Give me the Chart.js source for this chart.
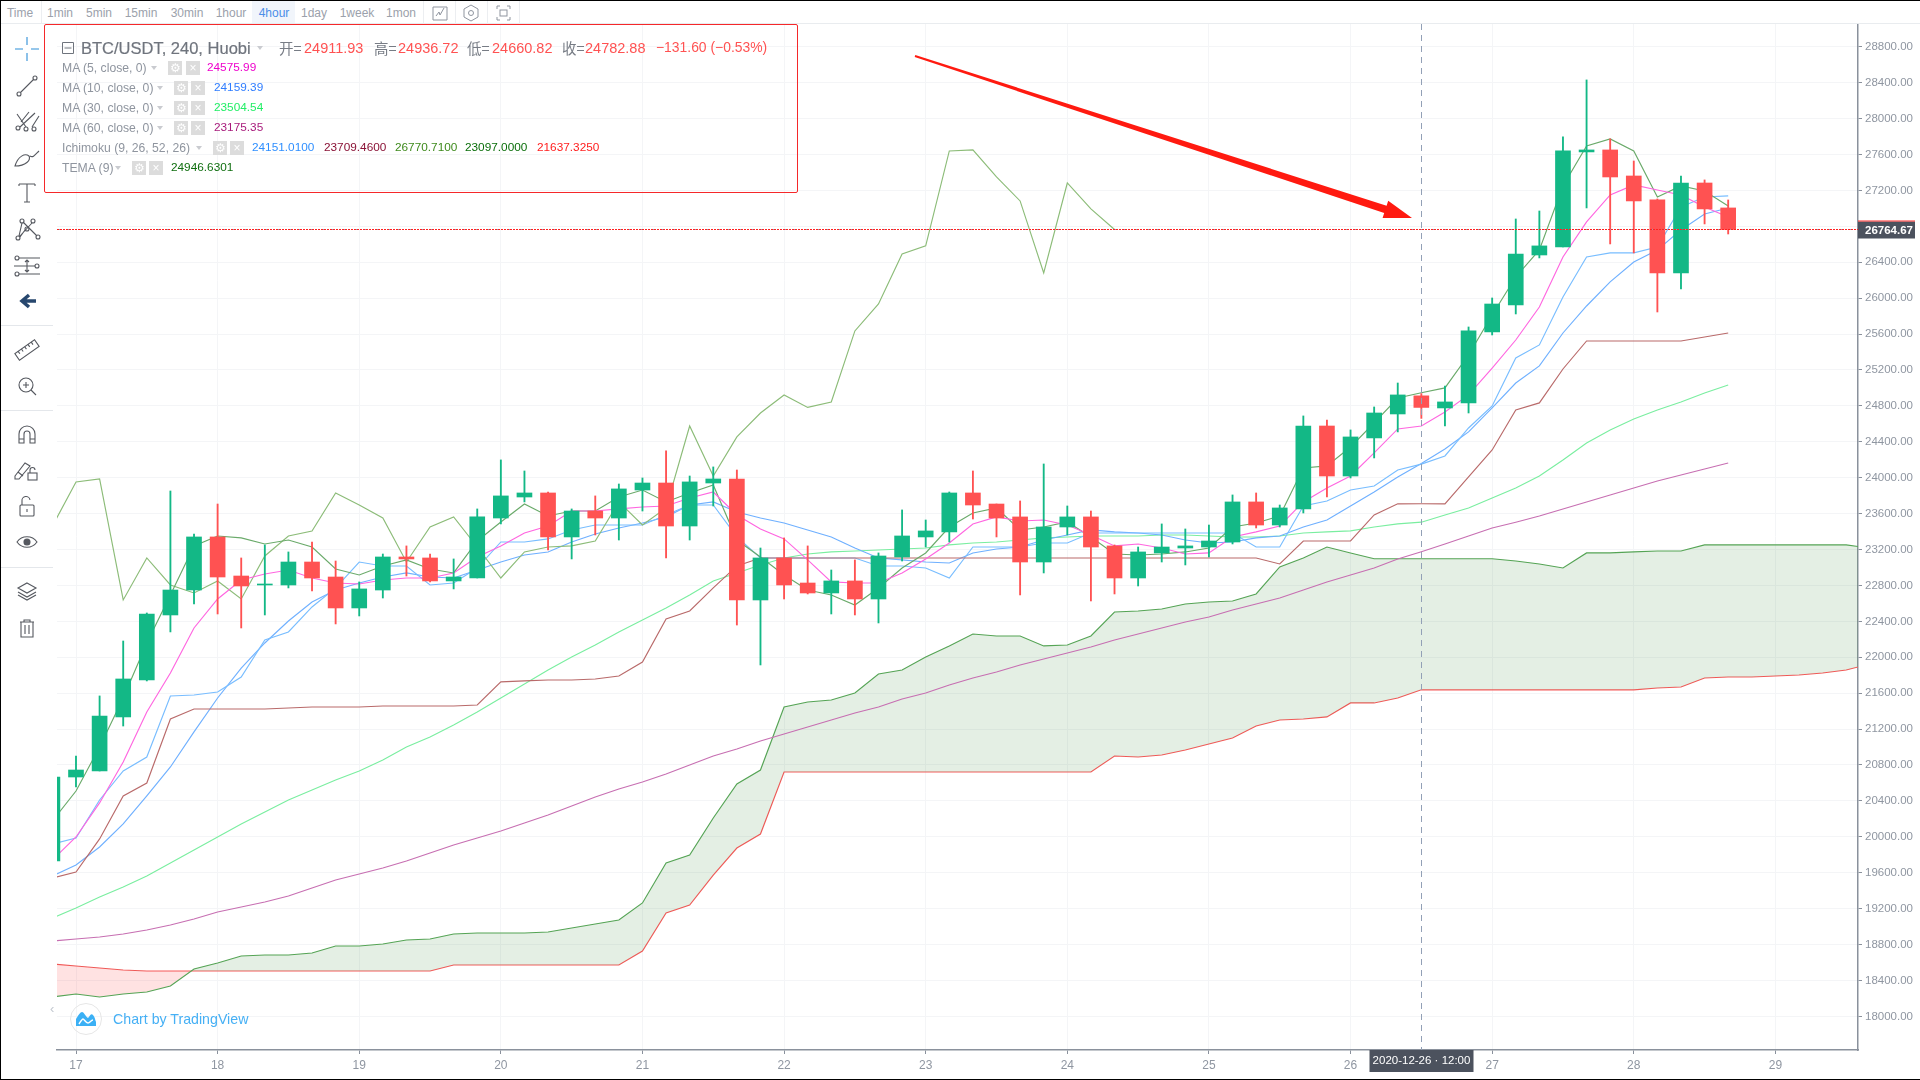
<!DOCTYPE html>
<html>
<head>
<meta charset="utf-8">
<title>BTC/USDT 240</title>
<script src="https://cdn.jsdelivr.net/npm/chart.js@4/dist/chart.umd.min.js"></script>
<style>
    html, body { margin: 0; padding: 0; background: #fff; overflow: hidden; }
    body { width: 1920px; height: 1080px; position: relative; font-family: "Liberation Sans", Arial, sans-serif; }
    canvas { position: absolute; left: 0; top: 0; }
    .t { position: absolute; white-space: nowrap; line-height: 1; transform: translateY(-50%); }
    .top { top: 13px; font-size: 12px; color: #9ba1ab; transform: translate(-50%, -50%); }
    .sep { position: absolute; top: 1px; height: 23px; width: 1px; background: #eceef1; }
    .lab { font-size: 12.2px; color: #8f959f; }
    .val { font-size: 11.8px; }
    .red { font-size: 14.5px; color: #ff5252; }
    .cn { font-size: 14.5px; color: #777c85; font-family: "Noto Sans CJK SC", sans-serif; }
    .caret { position: absolute; width: 0; height: 0; border-left: 3.5px solid transparent; border-right: 3.5px solid transparent; border-top: 4px solid #c9cbd0; }
    .btn { position: absolute; width: 14px; height: 14px; background: #dcdcdc; color: #fff; font-size: 12px; line-height: 14px; text-align: center; }
    #frame { position: absolute; inset: 0; border-left: 1px solid #000; border-top: 1px solid #000; border-bottom: 1px solid #000; pointer-events: none; }
    #topbar { position: absolute; left: 0; top: 0; width: 1920px; height: 24px; border-bottom: 1px solid #e9ecef; background: #fff; box-sizing: border-box; }
    #legendbox { position: absolute; left: 44px; top: 24px; width: 752px; height: 167px; border: 1px solid #f5282a; border-radius: 2px; }
</style>
</head>
<body>
<canvas id="chart" width="1920" height="1080"></canvas>

<div id="topbar">
    <span class="t top" style="left:20px">Time</span><i class="sep" style="left:41px"></i>
    <span class="t top" style="left:60px">1min</span>
    <span class="t top" style="left:99px">5min</span>
    <span class="t top" style="left:141px">15min</span>
    <span class="t top" style="left:187px">30min</span>
    <span class="t top" style="left:231px">1hour</span>
    <i style="position:absolute;left:252px;top:1px;width:43px;height:22px;background:#f1f5fb"></i>
    <span class="t top" style="left:274px;color:#4b8ee8">4hour</span>
    <span class="t top" style="left:314px">1day</span>
    <span class="t top" style="left:357px">1week</span>
    <span class="t top" style="left:401px">1mon</span>
    <i class="sep" style="left:423px"></i><i class="sep" style="left:455px"></i><i class="sep" style="left:487px"></i><i class="sep" style="left:519px"></i>
    <svg style="position:absolute;left:430px;top:4px" width="84" height="18" fill="none" stroke="#8f959f">
        <path d="M3 3h14v13H3zM6 12l3-4 1 3 4-7"/>
        <path d="M41 1l7 4v8l-7 4-7-4V5z"/><circle cx="41" cy="9" r="2.5"/>
        <path d="M67 5V2h3M77 2h3v3M80 13v3h-3M70 16h-3v-3"/><rect x="70" y="6" width="7" height="6"/>
    </svg>
</div>

<svg id="tools" style="position:absolute;left:0;top:0" width="57" height="660" fill="none" stroke="#55585f" stroke-width="1.1">
    <g stroke="#2f8fd8"><path d="M15 49h8M31 49h8M27 37v8M27 53v8"/></g>
    <g transform="translate(27,86)"><circle cx="-8" cy="8" r="2"/><circle cx="8" cy="-8" r="2"/><path d="M-6.5 6.5L6.5-6.5"/></g>
    <g transform="translate(27,121)"><circle cx="-9" cy="7" r="2"/><circle cx="-1" cy="8" r="2"/><circle cx="7" cy="8" r="2"/><path d="M-7 6L8-8M-1 6L-10-7M-6 1L2-9M5 6L12-5"/></g>
    <g transform="translate(27,158)"><path d="M-12 8C-9-2-2-5 2-2c2 4-3 10-14 10zM3-2C6 0 8-3 12-7"/></g>
    <g transform="translate(27,193)"><path d="M-8-9H8M-8-9v2M8-9v2M0-9V9M-3 9h6"/></g>
    <g transform="translate(27,229)"><circle cx="-9" cy="9" r="2"/><circle cx="-5" cy="-8" r="2"/><circle cx="6" cy="-8" r="2"/><circle cx="11" cy="8" r="2"/><circle cx="0" cy="0" r="2"/><path d="M-8 7L-5-6M-7 8L-2 1M-4-7L10 7M5-6L-8 8"/></g>
    <g transform="translate(27,266)"><circle cx="-10" cy="-8" r="2"/><circle cx="10" cy="0" r="2"/><circle cx="-10" cy="8" r="2"/><path d="M-8-8H13M-13 0H8M-8 8H13M0-6V6M-2-4L0-6 2-4M-2 4L0 6 2 4"/></g>
    <g transform="translate(27,301)"><path d="M9 0H-3M2-6L-5 0 2 6" stroke="#27476e" stroke-width="3.5"/></g>
    <rect x="0" y="325" width="53" height="1" fill="#e4e7eb" stroke="none"/>
    <g transform="translate(27,350) rotate(-35)"><rect x="-12" y="-4" width="24" height="8"/><path d="M-8-4v3M-4-4v3M0-4v3M4-4v3M8-4v3"/></g>
    <g transform="translate(27,386)"><circle cx="-1" cy="-1" r="7"/><path d="M-1-4V2M-4-1H2M4 4L9 9"/></g>
    <rect x="0" y="410" width="53" height="1" fill="#e4e7eb" stroke="none"/>
    <g transform="translate(27,435)"><path d="M-8 8V-1A8 8 0 0 1 8-1V8H3V-1A3 3 0 0 0-3-1V8zM-8 4H-3M3 4H8"/></g>
    <g transform="translate(27,470)"><path d="M-12 6L-2-7 3-4-8 9l-4 0zM-9 2L-4 6"/><rect x="1" y="3" width="9" height="7"/><path d="M3 3V0a2.500 2.500 0 0 1 5 0"/></g>
    <g transform="translate(27,507)"><rect x="-7" y="-2" width="14" height="11" rx="1"/><path d="M-5-2V-6A4 4 0 0 1 3-7M0 2v3"/></g>
    <g transform="translate(27,542)"><path d="M-10 0C-5-7 5-7 10 0 5 7-5 7-10 0z"/><circle r="3" fill="#55585f"/></g>
    <rect x="0" y="567" width="53" height="1" fill="#e4e7eb" stroke="none"/>
    <g transform="translate(27,591)"><path d="M0-8L9-3 0 2-9-3zM-9 1L0 6 9 1M-9 4L0 9 9 4"/></g>
    <g transform="translate(27,628)"><path d="M-7-6H7M-3-6V-8H3V-6M-6-6V9H6V-6M-2-3V6M2-3V6"/></g>
</svg>

<div id="legendbox"></div>
<svg style="position:absolute;left:62px;top:42px" width="12" height="12" fill="none" stroke="#6f747d"><path d="M.5.5h11v11H.5zM2.500 6h7"/></svg>
<span class="t" style="left:81px;top:48px;font-size:16.5px;color:#6f747d;-webkit-text-stroke:.2px #6f747d">BTC/USDT, 240, Huobi</span>
<i class="caret" style="left:257px;top:46px"></i>
<span class="t cn" style="left:279px;top:48px">开=</span><span class="t red" style="left:304px;top:48px">24911.93</span>
<span class="t cn" style="left:374px;top:48px">高=</span><span class="t red" style="left:398px;top:48px">24936.72</span>
<span class="t cn" style="left:467px;top:48px">低=</span><span class="t red" style="left:492px;top:48px">24660.82</span>
<span class="t cn" style="left:562px;top:48px">收=</span><span class="t red" style="left:585px;top:48px">24782.88</span>
<span class="t red" style="left:656px;top:48px;font-size:13.9px">−131.60 (−0.53%)</span>

<span class="t lab" style="left:62px;top:68px">MA (5, close, 0)</span><i class="caret" style="left:151px;top:66px"></i>
<span class="btn" style="left:168px;top:61px">⚙</span><span class="btn" style="left:186px;top:61px">×</span>
<span class="t val" style="left:207px;top:68px;color:#ee00cc">24575.99</span>

<span class="t lab" style="left:62px;top:88px">MA (10, close, 0)</span><i class="caret" style="left:157px;top:86px"></i>
<span class="btn" style="left:174px;top:81px">⚙</span><span class="btn" style="left:191px;top:81px">×</span>
<span class="t val" style="left:214px;top:88px;color:#2f7dff">24159.39</span>

<span class="t lab" style="left:62px;top:108px">MA (30, close, 0)</span><i class="caret" style="left:157px;top:106px"></i>
<span class="btn" style="left:174px;top:101px">⚙</span><span class="btn" style="left:191px;top:101px">×</span>
<span class="t val" style="left:214px;top:108px;color:#22ee66">23504.54</span>

<span class="t lab" style="left:62px;top:128px">MA (60, close, 0)</span><i class="caret" style="left:157px;top:126px"></i>
<span class="btn" style="left:174px;top:121px">⚙</span><span class="btn" style="left:191px;top:121px">×</span>
<span class="t val" style="left:214px;top:128px;color:#a81c7c">23175.35</span>

<span class="t lab" style="left:62px;top:148px">Ichimoku (9, 26, 52, 26)</span><i class="caret" style="left:196px;top:146px"></i>
<span class="btn" style="left:213px;top:141px">⚙</span><span class="btn" style="left:230px;top:141px">×</span>
<span class="t val" style="left:252px;top:148px;color:#2f8fff">24151.0100</span>
<span class="t val" style="left:324px;top:148px;color:#8a1236">23709.4600</span>
<span class="t val" style="left:395px;top:148px;color:#3e8a1c">26770.7100</span>
<span class="t val" style="left:465px;top:148px;color:#0a6e0a">23097.0000</span>
<span class="t val" style="left:537px;top:148px;color:#ff2020">21637.3250</span>

<span class="t lab" style="left:62px;top:168px">TEMA (9)</span><i class="caret" style="left:115px;top:166px"></i>
<span class="btn" style="left:132px;top:161px">⚙</span><span class="btn" style="left:149px;top:161px">×</span>
<span class="t val" style="left:171px;top:168px;color:#0f6e0f">24946.6301</span>

<!-- annotation arrow on top of the screenshot -->
<svg style="position:absolute;left:0;top:0;pointer-events:none" width="1920" height="1080">
    <polygon fill="#ff1a10" points="914.7,57 1384.2,212.9 1382.6,217.9 1412,218 1388.2,200.7 1386.6,205.7 915.3,55"/>
</svg>

<svg style="position:absolute;left:66px;top:1003px" width="40" height="32" fill="none">
    <circle cx="20" cy="16" r="15.500" stroke="#e6e6e6"/>
    <path d="M10 23V16C12 13 14 9 16 9s4 5 6 6c2-2 3-5 5-3s2 5 3 7v4z" fill="#3bb0f5"/>
    <path d="M13 21c2-3 3-5 4-5s3 4 5 4 3-3 5-3" stroke="#fff" stroke-width="1.500"/>
</svg>
<span class="t" style="left:113px;top:1019px;font-size:14.2px;color:#46b0f5">Chart by TradingView</span>
<span class="t" style="left:50px;top:1008px;font-size:13px;color:#c3c8d0">‹</span>
<div id="frame"></div>

<script>
// --- Candles, one entry per 4h bar. First bar sits just left of the plot edge ---
const firstBar = -1;
const opens = [
    19730, 20666, 20733, 21335, 21747, 22471, 22749, 23340, 22905, 22805, 22805, 23061,
    22894, 22549, 22749, 23117, 23106, 22850, 22883, 23551, 23785, 23830, 23340, 23629,
    23551, 23863, 23941, 23462, 23941, 23986, 22638, 23106, 22827, 22716, 22850, 22649,
    23117, 23340, 23396, 23830, 23707, 23563, 23061, 23451, 23563, 23240, 22883, 23162,
    23217, 23228, 23284, 23730, 23473, 23652, 24576, 24019, 24443, 24710, 24911.93, 24777,
    24833, 25624, 25924, 26481, 26570, 27629, 27651, 27361, 27094, 26281, 27283, 27005
];
const highs = [
    20720, 20900, 21569, 22181, 22493, 23852, 23373, 23707, 23106, 23251, 23173, 23284,
    23072, 22839, 23150, 23240, 23150, 23095, 23652, 24198, 24075, 23841, 23652, 23797,
    23930, 23997, 24298, 24019, 24120, 24086, 23217, 23329, 23240, 22972, 23084, 23162,
    23641, 23529, 23841, 24075, 23707, 23741, 24153, 23685, 23629, 23251, 23228, 23485,
    23429, 23473, 23808, 23830, 23696, 24688, 24643, 24532, 24788, 25055, 24936.72, 25022,
    25679, 26002, 26882, 26971, 27796, 28431, 27774, 27528, 27105, 27361, 27317, 27094
];
const lows = [
    19700, 20555, 20733, 21234, 21736, 22282, 22593, 22482, 22326, 22471, 22772, 22738,
    22371, 22460, 22660, 22905, 22839, 22761, 22883, 23485, 23730, 23195, 23095, 23362,
    23306, 23629, 23106, 23306, 23685, 22359, 21914, 22649, 22705, 22482, 22471, 22382,
    23072, 23228, 23284, 23540, 23340, 22694, 22939, 23362, 22627, 22705, 22794, 23061,
    23028, 23117, 23262, 23440, 23451, 23607, 23785, 23997, 24220, 24510, 24660.82, 24576,
    24721, 25590, 25824, 26448, 26570, 27005, 26604, 26504, 25846, 26103, 26827, 26715
];
const closes = [
    20666, 20744, 21346, 21758, 22482, 22749, 23340, 22894, 22794, 22816, 23061, 22883,
    22549, 22761, 23117, 23095, 22850, 22894, 23563, 23797, 23830, 23340, 23629, 23551,
    23875, 23941, 23462, 23953, 23986, 22638, 23106, 22805, 22716, 22850, 22649, 23128,
    23351, 23407, 23830, 23696, 23551, 23061, 23451, 23563, 23228, 22883, 23173, 23228,
    23240, 23295, 23730, 23473, 23663, 24576, 24019, 24454, 24721, 24922, 24782.88, 24844,
    25635, 25935, 26492, 26582, 27640, 27651, 27350, 27083, 26281, 27283, 26994, 26764.67
];

// --- Indicators ---
const ma5 = [
    19742, 19998, 20377, 20833, 21390, 21825, 22326, 22649, 22861, 22928, 22972, 22883,
    22827, 22816, 22861, 22883, 22883, 22939, 23117, 23240, 23384, 23462, 23629, 23629,
    23652, 23674, 23685, 23774, 23841, 23585, 23429, 23318, 23084, 22839, 22827, 22827,
    22939, 23095, 23273, 23485, 23563, 23518, 23529, 23473, 23362, 23240, 23262, 23217,
    23150, 23162, 23340, 23396, 23462, 23730, 23886, 24019, 24276, 24543, 24575.99, 24732,
    24922, 25222, 25534, 25902, 26459, 26849, 27150, 27261, 27205, 27150, 27016, 26905
];
const ma10 = [
    19563, 19686, 19886, 20143, 20455, 20778, 21168, 21546, 21880, 22159, 22404, 22616,
    22749, 22827, 22894, 22939, 22894, 22883, 22972, 23061, 23139, 23173, 23284, 23373,
    23440, 23496, 23563, 23696, 23730, 23618, 23551, 23496, 23418, 23340, 23217, 23106,
    23084, 23061, 23050, 23162, 23206, 23228, 23306, 23362, 23418, 23396, 23384, 23362,
    23306, 23273, 23284, 23329, 23351, 23451, 23529, 23685, 23841, 24008, 24159.39, 24320,
    24510, 24777, 25055, 25245, 25612, 25913, 26181, 26403, 26537, 26760, 26938, 27005
];
const ma30 = [
    19095, 19207, 19329, 19441, 19563, 19708, 19853, 19998, 20143, 20276, 20410, 20521,
    20633, 20733, 20856, 21000, 21112, 21245, 21390, 21546, 21702, 21858, 22003, 22137,
    22282, 22415, 22549, 22694, 22850, 22939, 23028, 23106, 23150, 23173, 23184, 23195,
    23206, 23217, 23251, 23273, 23284, 23306, 23329, 23340, 23351, 23351, 23351, 23362,
    23362, 23351, 23340, 23340, 23351, 23384, 23396, 23407, 23451, 23485, 23504.54, 23585,
    23663, 23774, 23886, 24019, 24198, 24387, 24532, 24654, 24755, 24844, 24944, 25033
];
const ma60 = [
    18839, 18862, 18884, 18917, 18962, 19017, 19084, 19162, 19218, 19274, 19341, 19430,
    19519, 19586, 19652, 19730, 19820, 19909, 19987, 20065, 20154, 20243, 20343, 20443,
    20533, 20611, 20700, 20800, 20900, 20978, 21067, 21145, 21223, 21301, 21379, 21446,
    21535, 21602, 21691, 21769, 21836, 21914, 21981, 22048, 22114, 22192, 22259, 22326,
    22393, 22449, 22527, 22593, 22660, 22749, 22839, 22916, 22994, 23095, 23175.35, 23262,
    23351, 23440, 23504, 23574, 23652, 23730, 23808, 23886, 23964, 24030, 24097, 24164
];
const conversion = [
    19920, 19987, 20410, 20733, 20889, 21569, 21580, 21613, 21780, 22192, 22282, 22560,
    22772, 23061, 23017, 23017, 22805, 22827, 22994, 23284, 23284, 23318, 23418, 23473,
    23473, 23473, 23585, 23696, 23696, 23340, 23106, 23106, 23106, 23106, 23106, 23017,
    23017, 22994, 22883, 23228, 23228, 23228, 23273, 23273, 23384, 23384, 23384, 23384,
    23384, 23384, 23384, 23228, 23228, 23685, 23741, 23863, 23908, 24086, 24151.01, 24242,
    24554, 24799, 25334, 25479, 26013, 26459, 26504, 26504, 26570, 27016, 27127, 27139
];
const base = [
    19541, 19608, 19976, 20455, 20599, 21312, 21424, 21424, 21424, 21424, 21435, 21446,
    21446, 21446, 21457, 21457, 21457, 21457, 21468, 21725, 21736, 21747, 21747, 21758,
    21791, 21947, 22426, 22515, 22772, 23017, 23106, 23106, 23106, 23106, 23106, 23106,
    23106, 23106, 23106, 23106, 23106, 23106, 23106, 23106, 23106, 23106, 23106, 23106,
    23106, 23106, 23106, 23106, 23039, 23295, 23295, 23295, 23585, 23709, 23709.46, 23709,
    24008, 24309, 24755, 24833, 25211, 25523, 25523, 25523, 25523, 25523, 25568, 25612
];
const lagging = [
    23462, 23953, 23986, 22638, 23106, 22805, 22716, 22850, 22649, 23128, 23351, 23407,
    23830, 23696, 23551, 23061, 23451, 23563, 23228, 22883, 23173, 23228, 23240, 23295,
    23730, 23473, 23663, 24576, 24019, 24454, 24721, 24922, 24782.88, 24844, 25635, 25935,
    26492, 26582, 27640, 27651, 27350, 27083, 26281, 27283, 26994, 26764.67
];
const tema = [
    20176, 20510, 21000, 21546, 22159, 22694, 23240, 23351, 23329, 23262, 23306, 23228,
    22983, 22916, 23017, 23084, 22983, 22939, 23295, 23507, 23707, 23574, 23629, 23629,
    23785, 23863, 23730, 23830, 23919, 23306, 23117, 22916, 22749, 22694, 22582, 22772,
    22994, 23162, 23451, 23607, 23663, 23418, 23451, 23507, 23340, 23150, 23139, 23150,
    23173, 23217, 23451, 23496, 23574, 24108, 24131, 24342, 24610, 24888, 24946.63, 25000,
    25367, 25813, 26236, 26537, 27250, 27696, 27774, 27640, 27127, 27250, 27194, 27027
];
// the cloud runs on past the last candle
const leadingA = [
    18215, 18249, 18215, 18249, 18271, 18338, 18527, 18594, 18672, 18683, 18683, 18706,
    18784, 18784, 18806, 18850, 18862, 18917, 18928, 18928, 18928, 18940, 18984, 19029,
    19073, 19263, 19708, 19797, 20209, 20588, 20744, 21446, 21502, 21524, 21602, 21814,
    21858, 22003, 22126, 22259, 22237, 22237, 22126, 22137, 22237, 22504, 22515, 22538,
    22593, 22616, 22627, 22705, 23006, 23106, 23228, 23162, 23097, 23097, 23097, 23097,
    23097, 23097, 23072, 23039, 22994, 23162, 23162, 23173, 23184, 23184, 23251, 23251,
    23251, 23251, 23251, 23251, 23251, 23217
];
const leadingB = [
    18583, 18561, 18538, 18516, 18505, 18505, 18505, 18505, 18505, 18505, 18505, 18505,
    18505, 18505, 18505, 18505, 18505, 18572, 18572, 18572, 18572, 18572, 18572, 18572,
    18572, 18728, 19151, 19240, 19574, 19875, 20031, 20722, 20722, 20722, 20722, 20722,
    20722, 20722, 20722, 20722, 20722, 20722, 20722, 20722, 20722, 20900, 20889, 20911,
    20967, 21034, 21101, 21234, 21301, 21312, 21335, 21491, 21491, 21546, 21637.33, 21637.33,
    21637.33, 21637.33, 21637.33, 21637.33, 21637.33, 21637.33, 21637.33, 21637.33, 21658, 21669, 21769, 21780,
    21780, 21791, 21802, 21825, 21858, 21925
];

// --- Axes ---
const dayBars = [0, 6, 12, 18, 24, 30, 36, 42, 48, 54, 60, 66, 72];
const dayLabels = ['17', '18', '19', '20', '21', '22', '23', '24', '25', '26', '27', '28', '29'];
const priceTicks = [
    18000, 18400, 18800, 19200, 19600, 20000, 20400, 20800, 21200, 21600, 22000, 22400, 22800, 23200,
    23600, 24000, 24400, 24800, 25200, 25600, 26000, 26400, 26800, 27200, 27600, 28000, 28400, 28800
];
const lastPrice = 26764.67;
const crossBar = 57;
const crossLabel = '2020-12-26 · 12:00';

const upColor = '#13b886';
const downColor = '#ff5252';
const points = values => values.map((y, k) => ({ x: firstBar + k, y }));

const line = (label, values, color, order) => ({
    type: 'line', label, data: points(values), borderColor: color,
    borderWidth: 1.15, pointRadius: 0, tension: 0, fill: false, order
});

const leadA = line('Leading A', leadingA, '#55a455', 10);
leadA.fill = { target: 1, above: 'rgba(76, 150, 76, 0.15)', below: 'rgba(255, 60, 60, 0.15)' };

const isUp = k => closes[k] >= opens[k];

// crosshair, last price line and their axis labels
const overlay = {
    id: 'overlay',
    afterDraw(chart) {
        const { ctx, chartArea: area, scales } = chart;
        const px = Math.round(scales.x.getPixelForValue(crossBar)) + 0.5;
        const py = Math.round(scales.y.getPixelForValue(lastPrice)) - 0.5;
        ctx.save();
        ctx.lineWidth = 1;
        ctx.strokeStyle = '#92a0b6';
        ctx.setLineDash([6, 5]);
        ctx.beginPath();
        ctx.moveTo(px, area.top);
        ctx.lineTo(px, area.bottom);
        ctx.stroke();
        ctx.setLineDash([3, 8]);
        ctx.beginPath();
        ctx.moveTo(area.left, py);
        ctx.lineTo(area.right, py);
        ctx.stroke();
        ctx.strokeStyle = '#ff1f1f';
        ctx.setLineDash([2, 1]);
        ctx.beginPath();
        ctx.moveTo(area.left, py);
        ctx.lineTo(area.right, py);
        ctx.stroke();
        ctx.setLineDash([]);

        ctx.fillStyle = '#4c525e';
        ctx.fillRect(area.right, py - 8, 57, 17);
        ctx.fillStyle = '#ff2a2a';
        ctx.fillRect(area.right, py - 9, 57, 1);
        ctx.fillStyle = '#4c525e';
        ctx.fillRect(px - 52, area.bottom, 104, 22);
        ctx.fillStyle = '#fff';
        ctx.textBaseline = 'middle';
        ctx.textAlign = 'left';
        ctx.font = 'bold 11.5px "Liberation Sans"';
        ctx.fillText(lastPrice.toFixed(2), area.right + 7, py + 1);
        ctx.textAlign = 'center';
        ctx.font = '11.5px "Liberation Sans"';
        ctx.fillText(crossLabel, px, area.bottom + 11);
        ctx.restore();
    }
};

new Chart(document.getElementById('chart').getContext('2d'), {
    type: 'bar',
    data: {
        datasets: [
            leadA,
            line('Leading B', leadingB, '#f55a5a', 10),
            line('MA 60', ma60, '#c76fb2', 6),
            line('MA 30', ma30, '#7aeea0', 6),
            line('Base', base, '#b96a6a', 5),
            line('Lagging', lagging, '#8cbc78', 5),
            line('Conversion', conversion, '#78bdff', 5),
            line('MA 10', ma10, '#6fb0ff', 5),
            line('MA 5', ma5, '#ff66e0', 4),
            line('TEMA', tema, '#6aaa6a', 4),
            {
                label: 'Wicks',
                data: lows.map((low, k) => ({ x: firstBar + k, y: [low, highs[k]] })),
                backgroundColor: ctx => (isUp(ctx.dataIndex) ? upColor : downColor),
                barThickness: 1.2, grouped: false, order: 2
            },
            {
                label: 'Bodies',
                data: opens.map((open, k) => ({ x: firstBar + k, y: [open, closes[k]] })),
                backgroundColor: ctx => (isUp(ctx.dataIndex) ? upColor : downColor),
                barThickness: 15, grouped: false, order: 1
            }
        ]
    },
    options: {
        responsive: false,
        animation: false,
        events: [],
        layout: { padding: { left: 57, top: 24, right: 0, bottom: 0 } },
        plugins: { legend: { display: false }, tooltip: { enabled: false } },
        scales: {
            x: {
                type: 'linear',
                offset: false,
                min: -0.805,
                max: 75.5,
                grid: { offset: false, color: '#f4f5f7', tickColor: '#8a919c', tickLength: 4 },
                border: { color: '#8a919c', width: 1.5 },
                afterBuildTicks: scale => { scale.ticks = dayBars.map(value => ({ value })); },
                afterFit: scale => { scale.height = 30; },
                ticks: {
                    autoSkip: false,
                    maxRotation: 0,
                    padding: 4,
                    color: '#8f96a1',
                    font: { family: '"Liberation Sans"', size: 12 },
                    callback: (value, index) => dayLabels[index]
                }
            },
            y: {
                type: 'linear',
                position: 'right',
                min: 17625,
                max: 29054,
                grid: { color: '#f4f5f7', tickColor: '#8a919c', tickLength: 4 },
                border: { color: '#8a919c', width: 1.5 },
                afterBuildTicks: scale => { scale.ticks = priceTicks.map(value => ({ value })); },
                afterFit: scale => { scale.width = 62; },
                ticks: {
                    autoSkip: false,
                    padding: 3,
                    color: '#8f96a1',
                    font: { family: '"Liberation Sans"', size: 11.5 },
                    callback: value => value.toFixed(2)
                }
            }
        }
    },
    plugins: [overlay]
});
</script>
</body>
</html>
